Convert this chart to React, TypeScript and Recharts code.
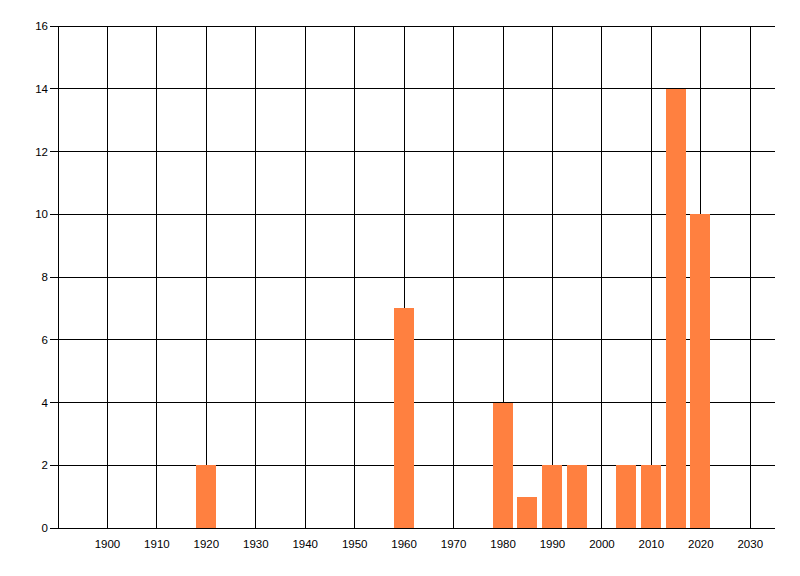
import { ComposedChart, Bar, XAxis, YAxis, CartesianGrid } from 'recharts';

const years = [1920, 1960, 1980, 1985, 1990, 1995, 2005, 2010, 2015, 2020];
const counts = [2, 7, 4, 1, 2, 2, 2, 2, 14, 10];
const xTicks = [1900, 1910, 1920, 1930, 1940, 1950, 1960, 1970, 1980, 1990, 2000, 2010, 2020, 2030];
const yTicks = [0, 2, 4, 6, 8, 10, 12, 14, 16];

const data = years.map((year, i) => ({ year, count: counts[i] }));

const App = () => {
  return (
    <div style={{ position: 'absolute', left: 0, top: 0, background: '#fff' }}>
      <ComposedChart
        width={800}
        height={576}
        data={data}
        margin={{ top: 26, right: 25, bottom: 18, left: 0 }}
        style={{ fontFamily: '"Liberation Sans", Arial, sans-serif', shapeRendering: 'crispEdges' }}
      >
        <CartesianGrid stroke="#000" strokeWidth={1} horizontalValues={yTicks} verticalValues={xTicks} />
        <XAxis
          dataKey="year"
          type="number"
          domain={[1890, 2035]}
          ticks={xTicks}
          interval={0}
          height={30}
          tickLine={false}
          tickMargin={6}
          axisLine={{ stroke: '#000' }}
          tick={{ fill: '#000', fontSize: 11.5 }}
        />
        <YAxis
          type="number"
          domain={[0, 16]}
          ticks={yTicks}
          interval={0}
          width={58}
          tickSize={8}
          tickMargin={2}
          tickLine={{ stroke: '#000' }}
          axisLine={{ stroke: '#000' }}
          tick={{ fill: '#000', fontSize: 11.5 }}
        />
        <Bar dataKey="count" fill="#FF8040" barSize={20} isAnimationActive={false} />
      </ComposedChart>
    </div>
  );
};

export default App;
